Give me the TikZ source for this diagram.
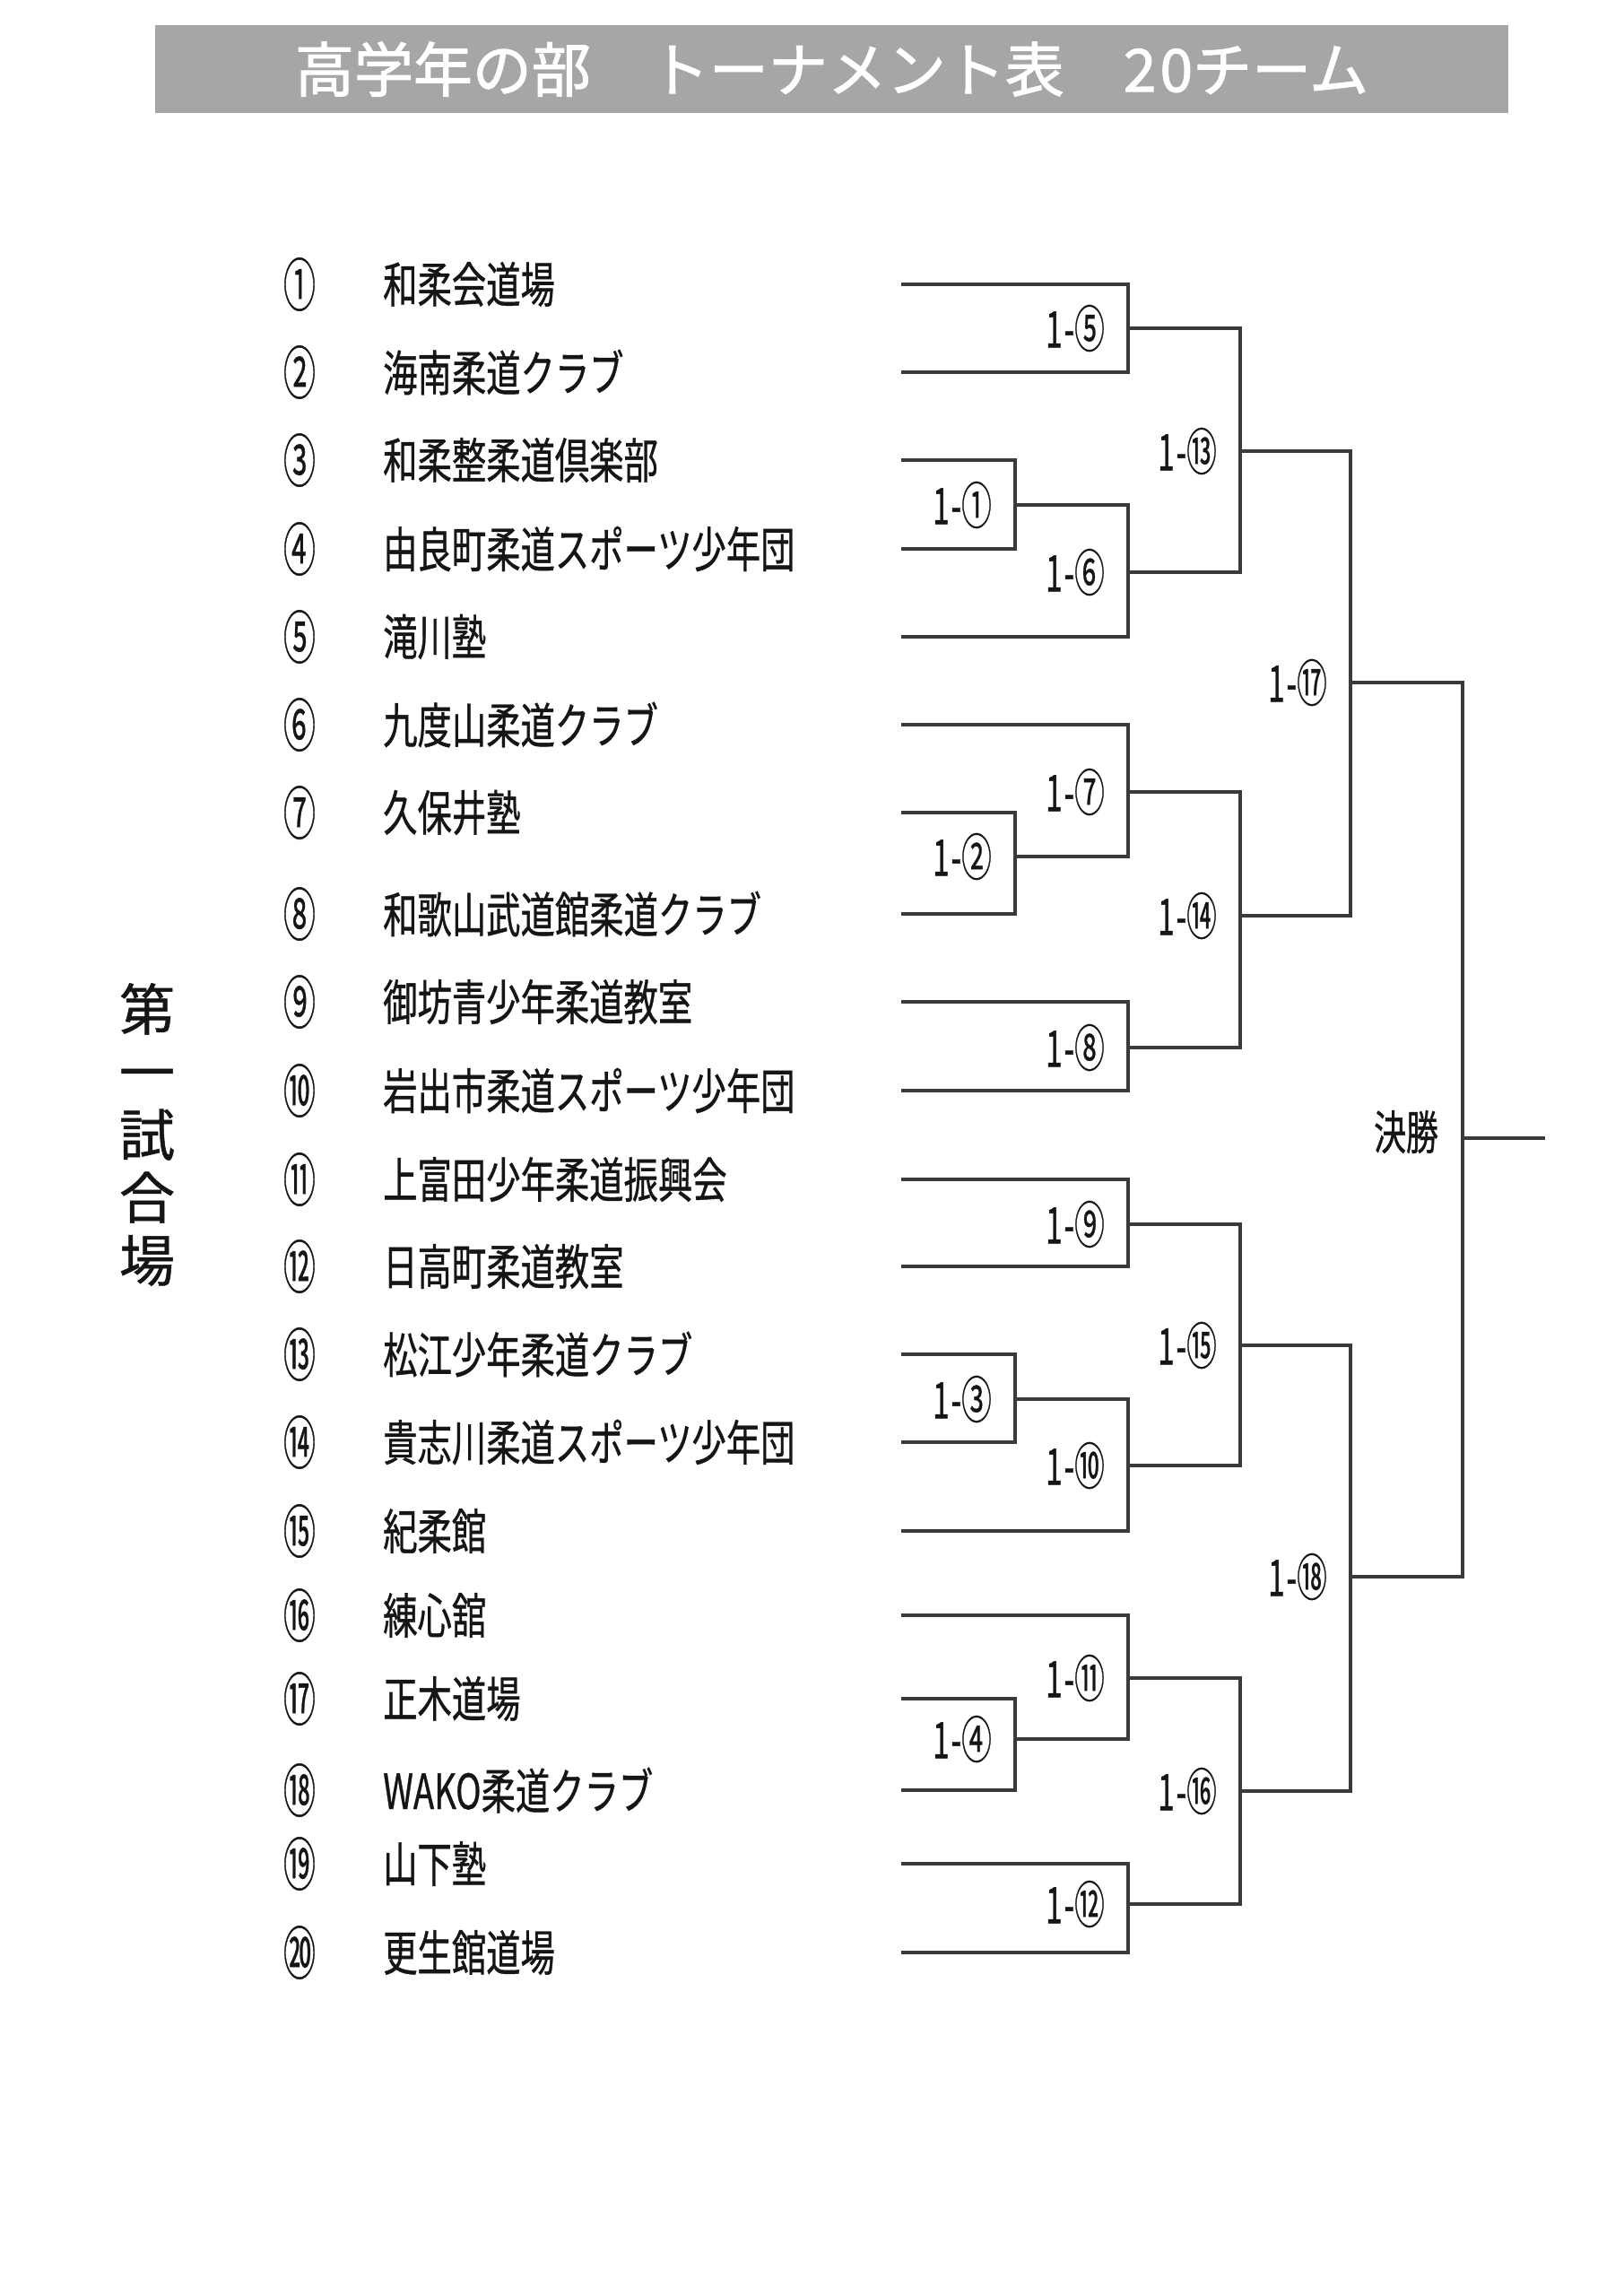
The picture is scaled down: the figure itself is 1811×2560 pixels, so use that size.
\documentclass[tikz,border=0pt]{standalone}
\usepackage{fontspec}
\newfontfamily\jp{Noto Sans CJK JP}[FakeBold=0.8]
\newfontfamily\jpt{Noto Sans CJK JP}[FakeBold=1.6]
\definecolor{ln}{HTML}{3A3A3A}
\definecolor{txt}{HTML}{151515}
\definecolor{bargray}{HTML}{A6A6A6}
\begin{document}
\begin{tikzpicture}[x=1pt,y=-1pt,
  bline/.style={draw=ln, line width=3.8pt, line join=miter},
  team/.style={anchor=west, inner sep=0pt, font=\jp\fontsize{54}{54}\selectfont, text=txt},
  num/.style={anchor=center, inner sep=0pt, font=\jp\fontsize{64}{64}\selectfont, text=txt},
  mlab/.style={anchor=east, inner sep=0pt, font=\jp\fontsize{56}{56}\selectfont, text=txt}]
\useasboundingbox[fill=white] (0,0) rectangle (1811,2560);
% title bar
\node[fill=bargray, minimum width=1509pt, minimum height=98pt, inner sep=0pt] (bar) at (927.5,77) {};
\node[inner sep=0pt, text=white, font=\jpt\fontsize{66}{66}\selectfont] (title) at (bar.center) {高学年の部　トーナメント表　2\kern4pt0チーム};
% venue label
\node[inner sep=0pt, align=center, text=txt, font=\jp\fontsize{62}{70}\selectfont] (venue) at (164,1265) {第\\一\\試\\合\\場};
% teams
\foreach \i/\y/\c/\nm in {
 1/317/①/和柔会道場,
 2/415/②/海南柔道クラブ,
 3/513/③/和柔整柔道倶楽部,
 4/612/④/由良町柔道スポーツ少年団,
 5/710/⑤/滝川塾,
 6/808/⑥/九度山柔道クラブ,
 7/906/⑦/久保井塾,
 8/1019/⑧/和歌山武道館柔道クラブ,
 9/1117/⑨/御坊青少年柔道教室,
 10/1216/⑩/岩出市柔道スポーツ少年団,
 11/1315/⑪/上富田少年柔道振興会,
 12/1412/⑫/日高町柔道教室,
 13/1510/⑬/松江少年柔道クラブ,
 14/1608/⑭/貴志川柔道スポーツ少年団,
 15/1707/⑮/紀柔館,
 16/1801/⑯/練心舘,
 17/1894/⑰/正木道場,
 18/1996/⑱/WAKO柔道クラブ,
 19/2078/⑲/山下塾,
 20/2177/⑳/更生館道場}{
  \node[num] (c\i) at (334,\y) {\scalebox{0.56}[1]{\c}};
  \node[team] (n\i) at (427,\y) {\scalebox{0.71}[1]{\nm}};
  \coordinate (t\i) at (1005,\y);
}
% matches: id / input A / input B / vertical x / output y / label
\foreach \k/\a/\b/\x/\y/\lab in {
 1/t3/t4/1132/563/①,
 2/t7/t8/1132/955/②,
 3/t13/t14/1132/1560/③,
 4/t17/t18/1132/1939/④,
 5/t1/t2/1258/366/⑤,
 6/j1/t5/1258/638/⑥,
 7/t6/j2/1258/883/⑦,
 8/t9/t10/1258/1168/⑧,
 9/t11/t12/1258/1365/⑨,
 10/j3/t15/1258/1634/⑩,
 11/t16/j4/1258/1871/⑪,
 12/t19/t20/1258/2123/⑫,
 13/j5/j6/1383/503/⑬,
 14/j7/j8/1383/1021/⑭,
 15/j9/j10/1383/1500/⑮,
 16/j11/j12/1383/1997/⑯,
 17/j13/j14/1506/761/⑰,
 18/j15/j16/1506/1758/⑱}{
  \coordinate (j\k) at (\x,\y);
  \draw[bline] (\a) -| (j\k) |- (\b);
  \node[mlab] (m\k) at ({\x-26},\y) {\scalebox{0.6}[1]{1\kern3pt-\lab}};
}
% final
\coordinate (jf) at (1631,1269);
\coordinate (fend) at (1723,1269);
\draw[bline] (j17) -| (jf) |- (j18);
\draw[bline] (jf) -- (fend);
\node[inner sep=0pt, text=txt, font=\jp\fontsize{52}{52}\selectfont] (final) at (1568,1262) {\scalebox{0.69}[1]{決勝}};
\end{tikzpicture}
\end{document}
